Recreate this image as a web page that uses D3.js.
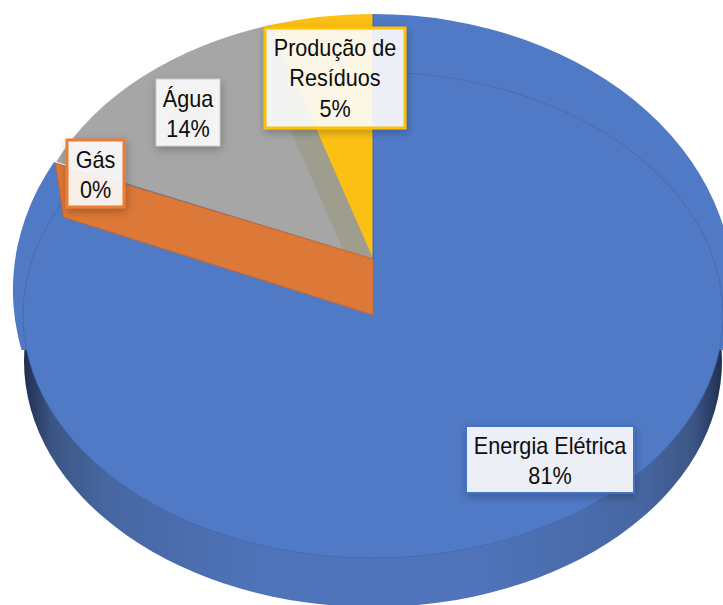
<!DOCTYPE html>
<html>
<head>
<meta charset="utf-8">
<script src="https://cdn.jsdelivr.net/npm/d3@7"></script>
<style>
  html, body { margin: 0; padding: 0; background: #fff; }
  text { font-family: "Liberation Sans", Arial, sans-serif; fill: #0d0d0d; }
</style>
</head>
<body>
<div id="chart"></div>
<script>
var categories = ["Energia Elétrica", "Gás", "Água", "Produção de Resíduos"];
var values = [81.4, 0.1, 13.7, 4.8];
var labelLines = [["Energia Elétrica"], ["Gás"], ["Água"], ["Produção de", "Resíduos"]];
var sliceColors = ["#507ac6", "#dc7838", "#a6a6a6", "#fcc015"];

var width = 723, height = 605;
var cx = 373;
var raised = {cy: 259, rx: 345, ry: 245};  // raised slices
var rim = {cy: 290, rx: 360, ry: 276};     // outer rim of the blue slice
var face = {cy: 315, rx: 350, ry: 243};    // lowered face of the big slice
var base = {cy: 361, rx: 349, ry: 246};    // bottom rim of the wall

// label boxes: x, y, w, h, border colour, border width
var boxes = [
    {x: 466, y: 426, w: 168, h: 67, stroke: "#4472c4", sw: 2},
    {x: 67, y: 140, w: 57, h: 67, stroke: "#ed7d31", sw: 3},
    {x: 156, y: 79, w: 64, h: 67, stroke: "#c8c8c8", sw: 1},
    {x: 265, y: 28, w: 140, h: 100, stroke: "#ffc000", sw: 3}
];

var svg = d3.select("#chart").append("svg")
    .attr("width", width)
    .attr("height", height)
    .style("display", "block");

var defs = svg.append("defs");

var wallGrad = defs.append("linearGradient").attr("id", "wall");
wallGrad.selectAll("stop")
    .data([[0, "#1f2f50"], [0.04, "#3c5585"], [0.12, "#4767a3"], [0.35, "#4f74ba"],
           [0.65, "#4f74ba"], [0.88, "#4767a3"], [0.96, "#3c5585"], [1, "#1f2f50"]])
    .join("stop")
    .attr("offset", d => d[0])
    .attr("stop-color", d => d[1]);

var shadow = defs.append("filter").attr("id", "shadow")
    .attr("x", "-20%").attr("y", "-20%").attr("width", "140%").attr("height", "140%");
shadow.append("feDropShadow")
    .attr("dx", 1).attr("dy", 3).attr("stdDeviation", 4)
    .attr("flood-color", "#000").attr("flood-opacity", 0.28);

// the rim only shows above this line, below it the face meets the wall
defs.append("clipPath").attr("id", "rimClip")
    .append("rect")
    .attr("x", 0).attr("y", 0)
    .attr("width", width).attr("height", 350);

var pie = d3.pie().sort(null).value(d => d);
var slices = pie(values);
var arc = d3.arc().innerRadius(0).outerRadius(1);

// point on an ellipse at a pie angle (0 = 12 o'clock, clockwise)
function onEllipse(e, a, k) {
    k = k === undefined ? 1 : k;
    return [cx + Math.sin(a) * e.rx * k, e.cy - Math.cos(a) * e.ry * k];
}

function ellipseSlice(parent, e, s) {
    return parent.append("path")
        .attr("d", arc(s))
        .attr("transform", "translate(" + cx + "," + e.cy + ") scale(" + e.rx + "," + e.ry + ")");
}

// wall and the big slice
svg.append("ellipse")
    .attr("cx", cx).attr("cy", base.cy)
    .attr("rx", base.rx).attr("ry", base.ry)
    .attr("fill", "url(#wall)");

svg.append("ellipse")
    .attr("cx", cx).attr("cy", face.cy)
    .attr("rx", face.rx).attr("ry", face.ry)
    .attr("fill", sliceColors[0]);

// outer rim of the blue slice behind the face, its centre sits lower so
// the end angle is pushed on a little to reach the corner of the gas wall
var rimSlice = {startAngle: slices[0].startAngle, endAngle: slices[0].endAngle + 0.08};
var rimGroup = svg.append("g").attr("clip-path", "url(#rimClip)");
ellipseSlice(rimGroup, rim, rimSlice)
    .attr("fill", sliceColors[0]);

// faint outline of the face on top of the rim
svg.append("ellipse")
    .attr("cx", cx).attr("cy", face.cy)
    .attr("rx", face.rx).attr("ry", face.ry)
    .attr("fill", "none")
    .attr("stroke", "#3f67ad")
    .attr("stroke-opacity", 0.7)
    .attr("stroke-width", 1);

// water and residues
ellipseSlice(svg, raised, slices[2])
    .attr("fill", sliceColors[2]);
ellipseSlice(svg, raised, slices[3])
    .attr("fill", sliceColors[3]);

// inner wall seen next to the residues slice
var gasAngle = slices[1].startAngle;
var resAngle = slices[3].startAngle;
var apex = [cx, raised.cy];
var p1 = onEllipse(raised, resAngle);
var p2 = onEllipse(raised, gasAngle, 0.094);
var p3 = onEllipse(raised, resAngle - 0.13, 0.557);
svg.append("path")
    .attr("d", d3.line()([p1, apex, p2, p3]) + "Z")
    .attr("fill", "#9e9d8e");

// the gas slice, almost nothing on the circle, so only its wall shows
var w1 = onEllipse(raised, gasAngle);
var w2 = apex;
var w3 = [cx, face.cy];
var w4 = [w1[0] + 8, w1[1] + 54];
svg.append("path")
    .attr("d", d3.line()([w1, w2, w3, w4]) + "Z")
    .attr("fill", sliceColors[1])
    .attr("stroke", "#c9682c")
    .attr("stroke-width", 1);

// seam between blue and yellow
svg.append("path")
    .attr("d", d3.line()([[cx, raised.cy - raised.ry], apex]))
    .attr("stroke", "#4267a8")
    .attr("stroke-width", 1)
    .attr("fill", "none");

// labels
var labels = svg.selectAll("g.label")
    .data(slices)
    .join("g")
    .attr("class", "label");

labels.append("rect")
    .attr("x", (d, i) => boxes[i].x)
    .attr("y", (d, i) => boxes[i].y)
    .attr("width", (d, i) => boxes[i].w)
    .attr("height", (d, i) => boxes[i].h)
    .attr("fill", "#fff")
    .attr("fill-opacity", 0.88)
    .attr("stroke", (d, i) => boxes[i].stroke)
    .attr("stroke-width", (d, i) => boxes[i].sw)
    .attr("filter", "url(#shadow)");

var total = d3.sum(values);
var pct = d3.format(".0%");

labels.each(function(d, i) {
    var lines = labelLines[i].concat([pct(d.value / total)]);
    var mid = boxes[i].x + boxes[i].w / 2;
    d3.select(this).selectAll("text")
        .data(lines)
        .join("text")
        .attr("transform", (l, j) => "translate(" + mid + "," + (boxes[i].y + 27.5 + j * 30.5) + ") scale(0.94,1)")
        .attr("text-anchor", "middle")
        .attr("font-size", 23)
        .text(l => l);
});
</script>
</body>
</html>
